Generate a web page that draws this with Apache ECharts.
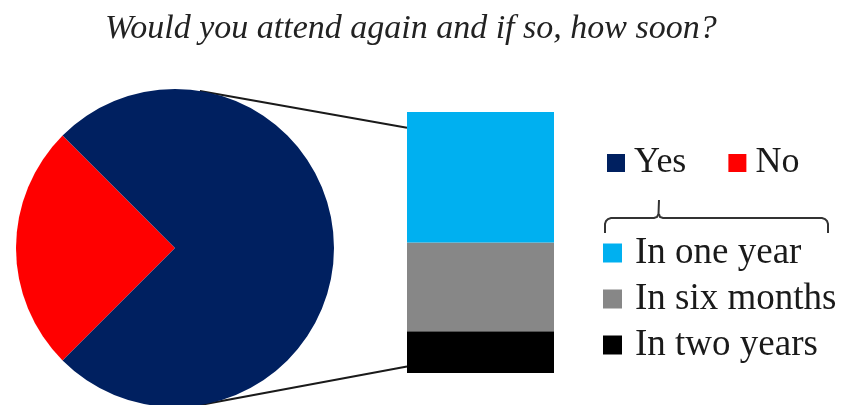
<!DOCTYPE html>
<html>
<head>
<meta charset="utf-8">
<script src="https://cdn.jsdelivr.net/npm/echarts@6/dist/echarts.min.js"></script>
<style>
  html, body { margin: 0; padding: 0; background: #fff; }
  #chart { width: 856px; height: 405px; }
</style>
</head>
<body>
<div id="chart"></div>
<script>
// pie: would attend again?
var pieNames = ['No', 'Yes'];
var pieValues = [25, 75];
var pieColors = ['#ff0000', '#002060'];
// bar: how soon (share of "Yes"), bottom to top
var barNames = ['In two years', 'In six months', 'In one year'];
var barValues = [16, 34, 50];
var barColors = ['#000000', '#878787', '#00b0f0'];

var chart = echarts.init(document.getElementById('chart'));
var serif = '"Liberation Serif", "Times New Roman", serif';
var pieCenter = [175, 248];
var pieRadius = 159;

var series = [{
    type: 'pie',
    center: pieCenter,
    radius: pieRadius,
    startAngle: 225,
    clockwise: true,
    silent: true,
    label: { show: false },
    labelLine: { show: false },
    data: pieNames.map(function (n, i) {
        return { name: n, value: pieValues[i], itemStyle: { color: pieColors[i] } };
    })
}];
barNames.forEach(function (n, i) {
    series.push({
        type: 'bar',
        name: n,
        stack: 'yes',
        barWidth: '100%',
        silent: true,
        itemStyle: { color: barColors[i] },
        data: [barValues[i]]
    });
});

var option = {
    animation: false,
    title: {
        text: 'Would you attend again and if so, how soon?',
        left: 105,
        top: 12,
        padding: 0,
        textStyle: { fontFamily: serif, fontStyle: 'italic', fontWeight: 'normal', fontSize: 34, color: '#222' }
    },
    grid: { left: 407, top: 112, width: 147, height: 261 },
    xAxis: { type: 'category', data: ['Yes'], show: false },
    yAxis: { type: 'value', min: 0, max: 100, show: false },
    legend: [{
        data: ['Yes', 'No'],
        left: 607,
        top: 145,
        padding: 0,
        itemGap: 42,
        itemWidth: 18,
        itemHeight: 18,
        icon: 'rect',
        selectedMode: false,
        textStyle: { fontFamily: serif, fontSize: 36, color: '#1a1a1a', lineHeight: 36, padding: [0, 0, 0, 4] }
    }, {
        data: ['In one year', 'In six months', 'In two years'],
        orient: 'vertical',
        left: 603,
        top: 233,
        padding: 0,
        itemGap: 6,
        itemWidth: 19,
        itemHeight: 19,
        icon: 'rect',
        selectedMode: false,
        textStyle: { fontFamily: serif, fontSize: 37, color: '#1a1a1a', lineHeight: 40, padding: [0, 0, 0, 8] }
    }],
    series: series
};
chart.setOption(option);

// connector lines from the pie to the bar, plus the legend bracket
var a = 81 * Math.PI / 180;
var barLeft = option.grid.left;
var yTop = chart.convertToPixel({ yAxisIndex: 0 }, 94);
var yBot = chart.convertToPixel({ yAxisIndex: 0 }, 2.5);
var lineStyle = { stroke: '#1a1a1a', lineWidth: 2 };
chart.setOption({
    graphic: [{
        type: 'line',
        shape: { x1: pieCenter[0] + pieRadius * Math.cos(a), y1: pieCenter[1] - pieRadius * Math.sin(a), x2: barLeft, y2: yTop },
        style: lineStyle
    }, {
        type: 'line',
        shape: { x1: pieCenter[0] + pieRadius * Math.cos(a), y1: pieCenter[1] + pieRadius * Math.sin(a), x2: barLeft, y2: yBot },
        style: lineStyle
    }, {
        type: 'polyline',
        shape: { points: [[605, 233], [605, 224], [606, 221], [608, 219], [611, 218], [654, 218], [657, 217], [658.5, 214], [659, 200]] },
        style: { stroke: '#333', lineWidth: 2, fill: null }
    }, {
        type: 'polyline',
        shape: { points: [[659, 214], [660, 217], [663, 218], [822, 218], [825, 219], [827, 221], [828, 224], [828, 233]] },
        style: { stroke: '#333', lineWidth: 2, fill: null }
    }]
});
</script>
</body>
</html>
